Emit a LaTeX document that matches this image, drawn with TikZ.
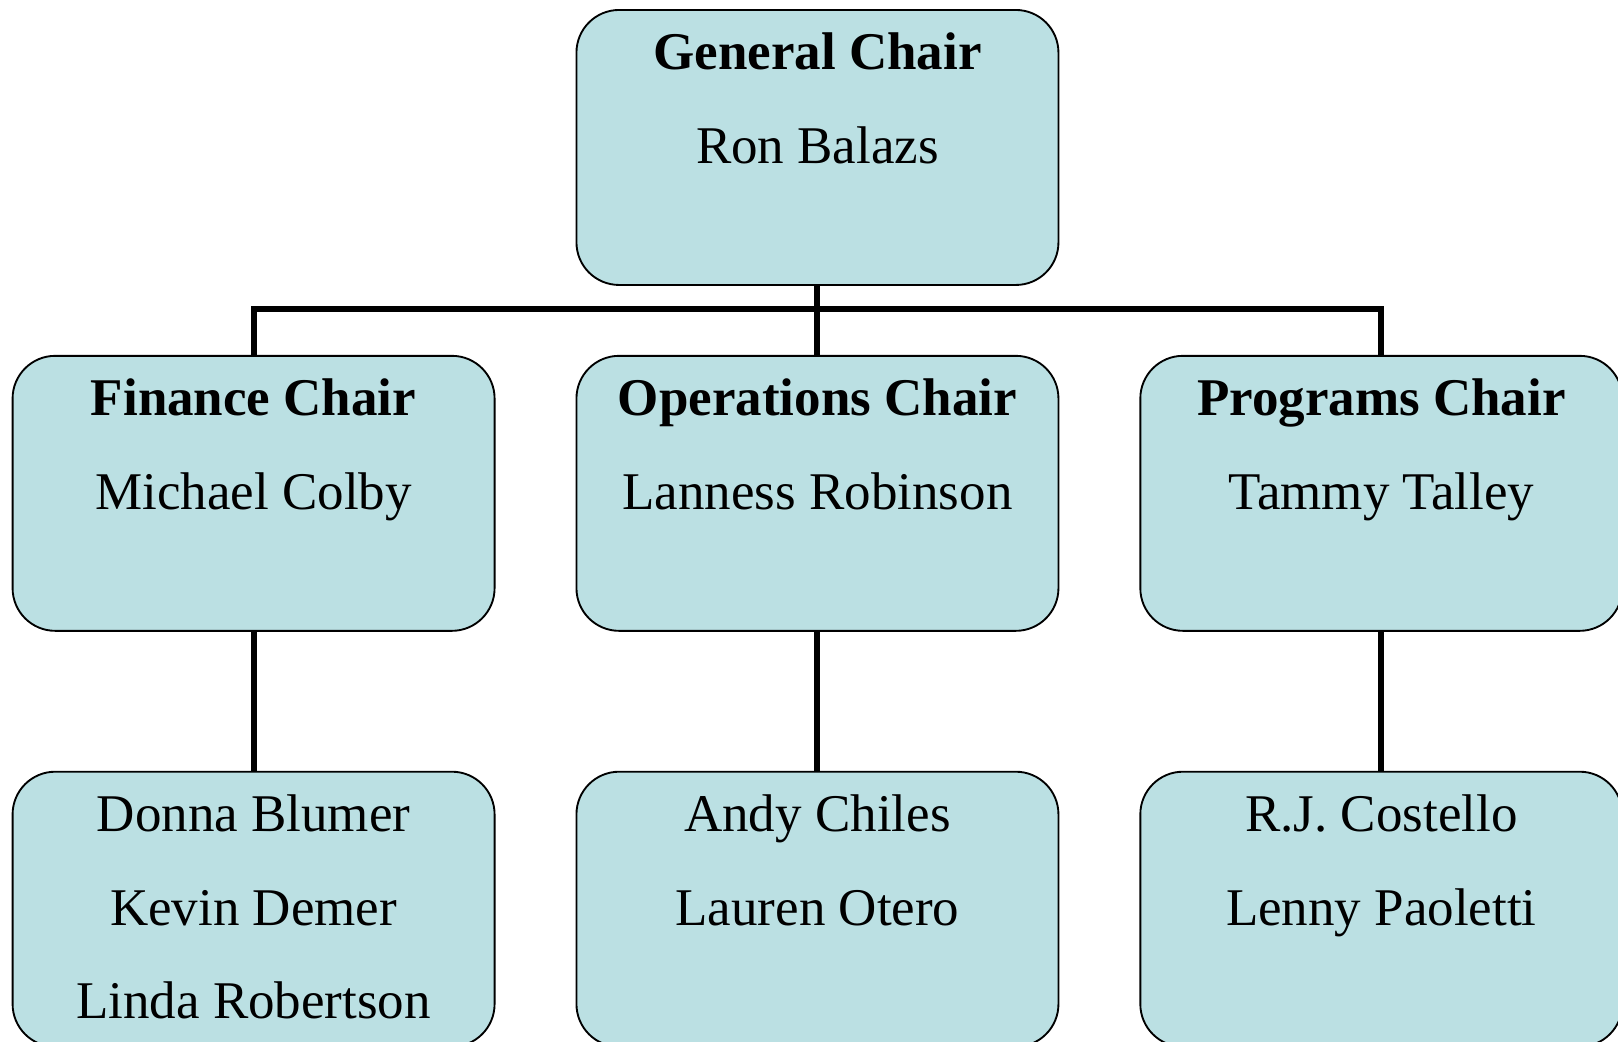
\documentclass[tikz,border=0pt]{standalone}
\usepackage{fontspec}
\setmainfont{Liberation Serif}
\usetikzlibrary{positioning}
\definecolor{boxblue}{RGB}{187,224,227}

\begin{document}
\begin{tikzpicture}[post/.style={draw,line width=1.4pt,fill=boxblue,rounded corners=32pt,
    minimum width=361.5pt,minimum height=206.25pt,inner sep=0pt,
    execute at begin node={\begin{minipage}[c][206.25pt][t]{361.5pt}\centering
      \fontsize{39.75pt}{70pt}\selectfont\rule{0pt}{45pt}},
    execute at end node={\end{minipage}}},
  wire/.style={line width=4.5pt}]
  \useasboundingbox (-613.1pt,110.6pt) rectangle (600.4pt,-670.9pt);
  % chairs
  \node(gen)[post]{\textbf{General Chair}\\Ron Balazs};
  \node(ops)[post,below=51.75pt of gen]{\textbf{Operations Chair}\\Lanness Robinson};
  \node(fin)[post,left=60pt of ops]{\textbf{Finance Chair}\\Michael Colby};
  \node(prog)[post,right=60pt of ops]{\textbf{Programs Chair}\\Tammy Talley};
  % teams
  \node(finteam)[post,below=104.25pt of fin]{Donna Blumer\\Kevin Demer\\Linda Robertson};
  \node(opsteam)[post,below=104.25pt of ops]{Andy Chiles\\Lauren Otero};
  \node(progteam)[post,below=104.25pt of prog]{R.J. Costello\\Lenny Paoletti};
  % lines
  \coordinate(bus) at ([yshift=-17pt]gen.south);
  \draw[wire] (gen.south) -- (ops.north);
  \draw[wire] (fin.north) |- (bus) -| (prog.north);
  \draw[wire] (fin) -- (finteam);
  \draw[wire] (ops) -- (opsteam);
  \draw[wire] (prog) -- (progteam);
\end{tikzpicture}
\end{document}
